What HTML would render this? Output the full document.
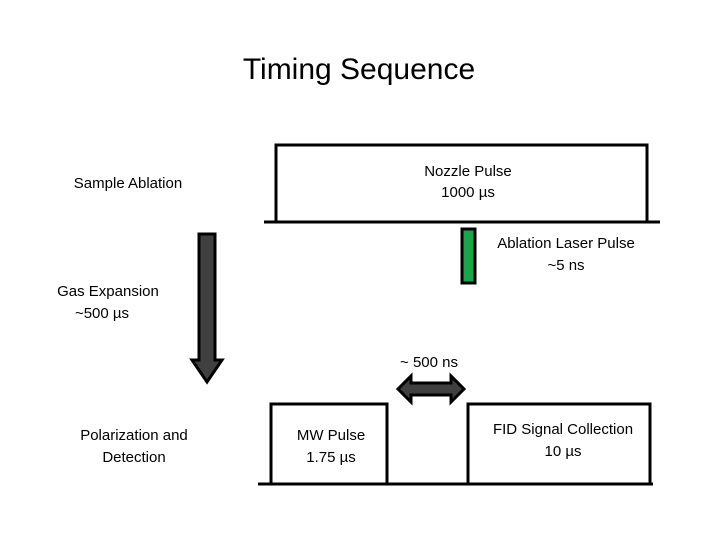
<!DOCTYPE html>
<html><head><style>
body{margin:0;background:#fff;}
svg{display:block}
text{font-family:"Liberation Sans",sans-serif;fill:#000}
</style></head><body>
<svg width="720" height="540" viewBox="0 0 720 540">
<text x="359" y="79" font-size="30" text-anchor="middle">Timing Sequence</text>
<text x="128" y="188" font-size="15" text-anchor="middle">Sample Ablation</text>
<polyline points="276,222 276,145 647,145 647,222" fill="none" stroke="#000" stroke-width="3"/>
<line x1="264" y1="222" x2="660" y2="222" stroke="#000" stroke-width="3"/>
<text x="468" y="176" font-size="15" text-anchor="middle">Nozzle Pulse</text>
<text x="468" y="197" font-size="15" text-anchor="middle">1000 µs</text>
<rect x="462" y="229" width="13" height="54" fill="#1aa648" stroke="#000" stroke-width="3"/>
<text x="566" y="248" font-size="15" text-anchor="middle">Ablation Laser Pulse</text>
<text x="566" y="270" font-size="15" text-anchor="middle">~5 ns</text>
<text x="108" y="296" font-size="15" text-anchor="middle">Gas Expansion</text>
<text x="102" y="318" font-size="15" text-anchor="middle">~500 µs</text>
<polygon points="199,234 215,234 215,360 222,360 207,382 192,360 199,360" fill="#404040" stroke="#000" stroke-width="3" stroke-linejoin="miter"/>
<text x="429" y="367" font-size="15" text-anchor="middle">~ 500 ns</text>
<polygon points="398,389 411,376 411,383 451,383 451,376 464,389 451,402 451,395 411,395 411,402" fill="#404040" stroke="#000" stroke-width="3"/>
<text x="134" y="440" font-size="15" text-anchor="middle">Polarization and</text>
<text x="134" y="462" font-size="15" text-anchor="middle">Detection</text>
<polyline points="271,484 271,404 387,404 387,484" fill="none" stroke="#000" stroke-width="3"/>
<polyline points="468,484 468,404 650,404 650,484" fill="none" stroke="#000" stroke-width="3"/>
<line x1="258" y1="484" x2="653" y2="484" stroke="#000" stroke-width="3"/>
<text x="331" y="440" font-size="15" text-anchor="middle">MW Pulse</text>
<text x="331" y="462" font-size="15" text-anchor="middle">1.75 µs</text>
<text x="563" y="434" font-size="15" text-anchor="middle">FID Signal Collection</text>
<text x="563" y="456" font-size="15" text-anchor="middle">10 µs</text>
</svg>
</body></html>
